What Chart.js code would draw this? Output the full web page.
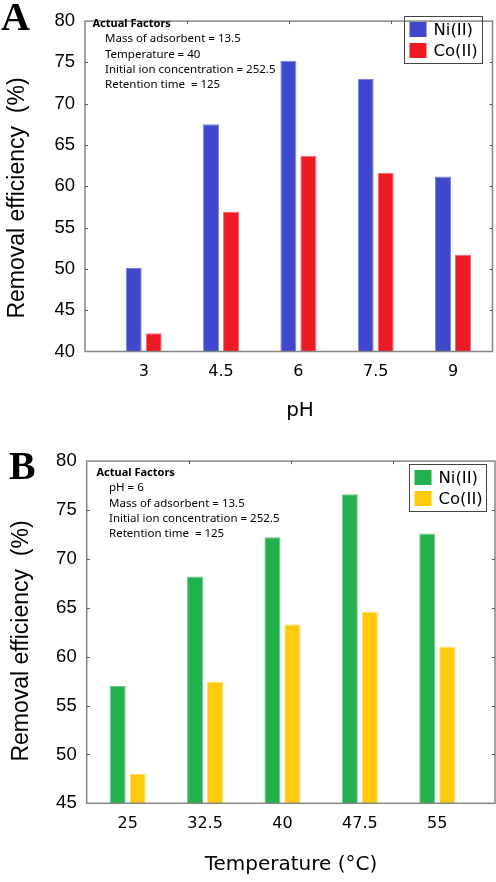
<!DOCTYPE html>
<html>
<head>
<meta charset="utf-8">
<script src="https://cdn.jsdelivr.net/npm/chart.js@4"></script>
<style>
  body { margin: 0; background: #fff; }
  canvas { display: block; }
</style>
</head>
<body>
<canvas id="chartA" width="496" height="440"></canvas>
<canvas id="chartB" width="496" height="442"></canvas>
<script>
// panel A: effect of pH
const phLevels = [3, 4.5, 6, 7.5, 9];
const phNi = [50.1, 67.5, 75.2, 73.0, 61.2];
const phCo = [42.2, 56.9, 63.7, 61.6, 51.7];
const phYTicks = [40, 45, 50, 55, 60, 65, 70, 75, 80];

// panel B: effect of temperature
const tempLevels = [25, 32.5, 40, 47.5, 55];
const tempNi = [57.0, 68.2, 72.2, 76.6, 72.6];
const tempCo = [48.0, 57.4, 63.3, 64.6, 61.0];
const tempYTicks = [45, 50, 55, 60, 65, 70, 75, 80];

const seriesNames = ['Ni(II)', 'Co(II)'];

const notesA = ['Mass of adsorbent = 13.5', 'Temperature = 40', 'Initial ion concentration = 252.5', 'Retention time  = 125'];
const notesB = ['pH = 6', 'Mass of adsorbent = 13.5', 'Initial ion concentration = 252.5', 'Retention time  = 125'];

function toPoints(xs, ys) {
    return xs.map((x, i) => ({ x: x, y: ys[i] }));
}

// frame, inward ticks, titles, notes and legend box
const panelDecor = {
    id: 'panelDecor',
    afterDraw(chart, args, o) {
        const ctx = chart.ctx;
        const a = chart.chartArea;
        const ys = chart.scales.y;
        ctx.save();
        ctx.strokeStyle = '#858585';
        ctx.lineWidth = 1.5;
        ctx.strokeRect(a.left, a.top, a.right - a.left, a.bottom - a.top);

        ctx.strokeStyle = '#555';
        ctx.lineWidth = 1;
        ctx.beginPath();
        ys.ticks.forEach(t => {
            const y = Math.round(ys.getPixelForValue(t.value)) + 0.5;
            if (y <= a.top + 2 || y >= a.bottom - 2) return;
            ctx.moveTo(a.left, y); ctx.lineTo(a.left + 3, y);
            ctx.moveTo(a.right, y); ctx.lineTo(a.right - 3, y);
        });
        for (let k = 1; k < 4; k++) {
            const x = Math.round(a.left + (a.right - a.left) * k / 4) + 0.5;
            ctx.moveTo(x, a.top); ctx.lineTo(x, a.top + 3);
        }
        ctx.stroke();

        ctx.fillStyle = '#000';
        ctx.textAlign = 'left';
        ctx.textBaseline = 'alphabetic';
        ctx.font = 'bold ' + o.letterSize + 'px "Liberation Serif"';
        ctx.fillText(o.letter, o.letterX, o.letterY);

        ctx.save();
        ctx.translate(o.yTitleX, o.yTitleY);
        ctx.rotate(-Math.PI / 2);
        ctx.textAlign = 'center';
        ctx.textBaseline = 'middle';
        ctx.font = '23px "Liberation Sans"';
        ctx.fillText('Removal efficiency  (%)', 0, 0);
        ctx.restore();

        ctx.textAlign = 'center';
        ctx.font = '20px "DejaVu Sans"';
        ctx.fillText(o.xTitle, o.xTitleX, o.xTitleY);

        ctx.textAlign = 'left';
        ctx.font = 'bold 11px "Noto Sans"';
        ctx.fillText('Actual Factors', o.notesX, o.notesY);
        ctx.font = '11.5px "Noto Sans"';
        o.notes.forEach((s, i) => ctx.fillText(s, o.notesX + 12.5, o.notesY + 15.3 * (i + 1)));

        const lg = o.legend;
        ctx.strokeStyle = '#444';
        ctx.lineWidth = 1;
        ctx.strokeRect(lg.x + 0.5, lg.y + 0.5, lg.w, lg.h);
        ctx.font = '16.5px "DejaVu Sans"';
        chart.data.datasets.forEach((ds, i) => {
            const top = lg.y + 6 + i * 21;
            ctx.fillStyle = ds.backgroundColor;
            ctx.fillRect(lg.x + 5.5, top, 17, 15);
            ctx.fillStyle = '#000';
            ctx.fillText(ds.label, lg.x + 29.5, top + 12.5);
        });
        ctx.restore();
    }
};

function makePanel(id, levels, ni, co, colors, yTicks, layout, decor) {
    const ctx = document.getElementById(id).getContext('2d');
    return new Chart(ctx, {
        type: 'bar',
        data: {
            datasets: [{
                label: seriesNames[0],
                data: toPoints(levels, ni),
                backgroundColor: colors[0],
                borderColor: colors[1],
                borderWidth: 1,
                borderSkipped: 'bottom'
            }, {
                label: seriesNames[1],
                data: toPoints(levels, co),
                backgroundColor: colors[2],
                borderColor: colors[3],
                borderWidth: 1,
                borderSkipped: 'bottom'
            }]
        },
        options: {
            responsive: false,
            animation: false,
            categoryPercentage: 0.517,
            barPercentage: 0.8,
            layout: { padding: { top: layout.top, right: layout.right, left: 0, bottom: 0 } },
            plugins: {
                legend: { display: false },
                tooltip: { enabled: false },
                panelDecor: decor
            },
            scales: {
                x: {
                    type: 'linear',
                    offset: false,
                    min: layout.xMin,
                    max: layout.xMax,
                    afterBuildTicks: (scale) => { scale.ticks = levels.map(v => ({ value: v })); },
                    afterFit: (scale) => { scale.height = layout.xHeight; },
                    grid: { display: false, drawTicks: false },
                    border: { display: false },
                    ticks: {
                        padding: 11,
                        color: '#000',
                        autoSkip: false,
                        maxRotation: 0,
                        font: { family: 'DejaVu Sans', size: 16 },
                        callback: (v) => String(v)
                    }
                },
                y: {
                    min: yTicks[0],
                    max: yTicks[yTicks.length - 1],
                    afterBuildTicks: (scale) => { scale.ticks = yTicks.map(v => ({ value: v })); },
                    afterFit: (scale) => { scale.width = layout.yWidth; },
                    grid: { display: false, drawTicks: false },
                    border: { display: false },
                    ticks: {
                        padding: 10,
                        color: '#000',
                        font: { family: 'Liberation Sans', size: 18.5 }
                    }
                }
            }
        },
        plugins: [panelDecor]
    });
}

makePanel('chartA', phLevels, phNi, phCo,
    ['#3F48CC', '#7C83DE', '#ED1C24', '#F4686D'], phYTicks,
    { top: 7, right: 3.5, xMin: 1.861, xMax: 9.766, xHeight: 88.5, yWidth: 85 },
    { letter: 'A', letterSize: 40, letterX: 1, letterY: 30,
      yTitleX: 18, yTitleY: 198, xTitle: 'pH', xTitleX: 300, xTitleY: 416,
      notes: notesA, notesX: 92.5, notesY: 27,
      legend: { x: 404, y: 16, w: 78, h: 47 } });

makePanel('chartB', tempLevels, tempNi, tempCo,
    ['#22B14C', '#6ACB86', '#FFC90E', '#FFDB5E'], tempYTicks,
    { top: 16.7, right: 1, xMin: 21.03, xMax: 60.6, xHeight: 78.7, yWidth: 86.7 },
    { letter: 'B', letterSize: 40, letterX: 9, letterY: 39,
      yTitleX: 22, yTitleY: 201, xTitle: 'Temperature (°C)', xTitleX: 291, xTitleY: 430,
      notes: notesB, notesX: 96.5, notesY: 36,
      legend: { x: 409, y: 24, w: 77, h: 47 } });
</script>
</body>
</html>
